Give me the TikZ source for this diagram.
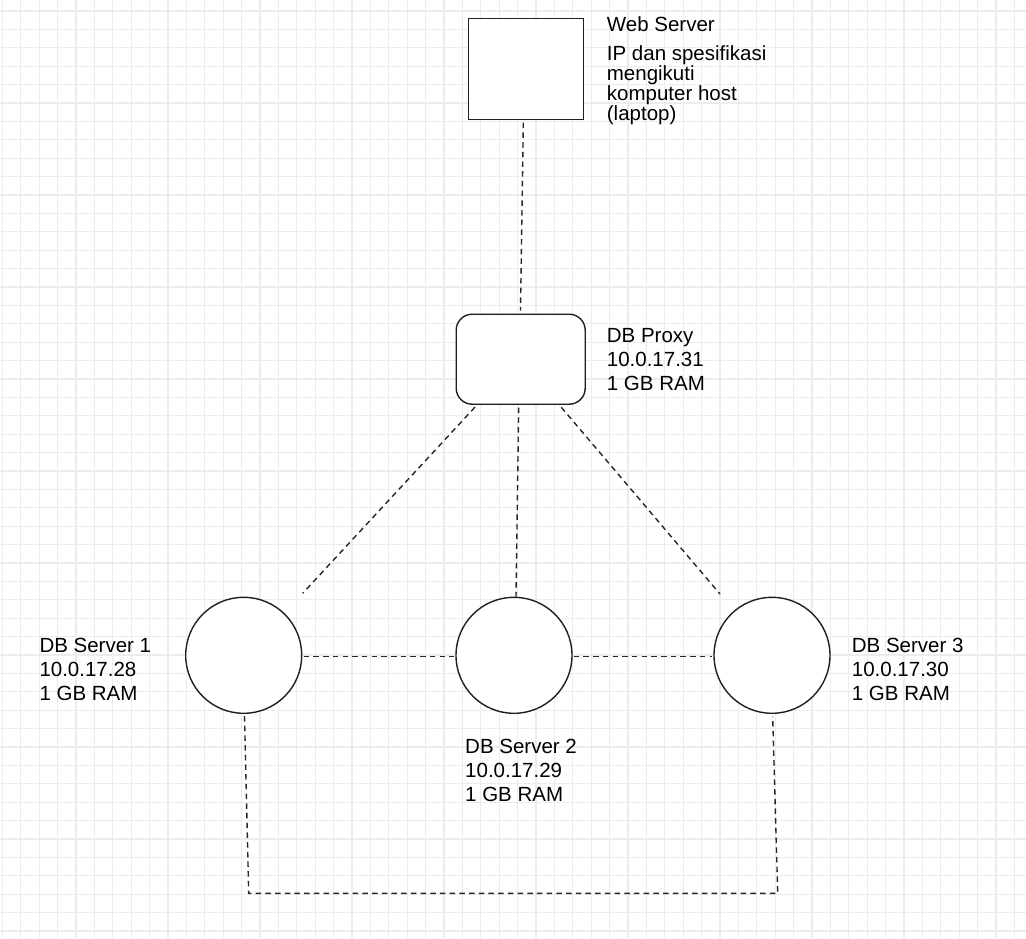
\documentclass[tikz,border=0pt]{standalone}
\usepackage{fontspec}
\setmainfont{Liberation Sans}
\begin{document}
\begin{tikzpicture}[x=1pt,y=-1pt,
  gridline/.style={draw={rgb,255:red,236;green,236;blue,236}, line width=1.2pt},
  box/.style={draw=black!88, line width=1.4pt, fill=white, inner sep=0pt},
  dbnode/.style={box, circle, minimum size=116pt},
  link/.style={draw=black!85, line width=1.4pt, dash pattern=on 5.5pt off 4.2pt},
  lbl/.style={anchor=base west, inner sep=0pt, font=\fontsize{20.5}{24}\selectfont},
  lbltight/.style={anchor=base west, inner sep=0pt, font=\fontsize{20.5}{20}\selectfont}]

% canvas and background grid
\useasboundingbox (0,0) rectangle (1026,938);
\fill[white] (0,0) rectangle (1026,938);
\foreach \i in {0,...,55} \draw[gridline] ({2.3+18.4*\i},0) -- ++(0,938);
\foreach \j in {0,...,50} \draw[gridline] (0,{11+18.4*\j}) -- ++(1026,0);

% machines
\node[box, rectangle, minimum width=115pt, minimum height=101pt] (web) at (526,69) {};
\node[box, rectangle, rounded corners=16pt, minimum width=129pt, minimum height=90pt] (proxy) at (520.7,359.2) {};
\node[dbnode] (db1) at (243.7,655.3) {};
\node[dbnode] (db2) at (514,655.3) {};
\node[dbnode] (db3) at (772,655.3) {};

% labels
\node[lbl] (webtitle) at (606.7,31.7) {Web Server};
\node[lbltight] (webinfo) at (606.7,60.5) {\parbox[t]{200pt}{\raggedright IP dan spesifikasi\\mengikuti\\komputer host\\(laptop)}};
\node[lbl] (proxyinfo) at (606.7,342) {\parbox[t]{200pt}{\raggedright DB Proxy\\10.0.17.31\\1 GB RAM}};
\node[lbl] (db1info) at (39.3,652) {\parbox[t]{200pt}{\raggedright DB Server 1\\10.0.17.28\\1 GB RAM}};
\node[lbl] (db2info) at (465,753.3) {\parbox[t]{200pt}{\raggedright DB Server 2\\10.0.17.29\\1 GB RAM}};
\node[lbl] (db3info) at (851.7,652) {\parbox[t]{200pt}{\raggedright DB Server 3\\10.0.17.30\\1 GB RAM}};

% connections
\draw[link] ([xshift=-2.7pt,yshift=-2.5pt]web.south) -- ([xshift=-0.2pt,yshift=3pt]proxy.north);
\draw[link] ([xshift=19.5pt,yshift=-2.2pt]proxy.south west) -- ([xshift=59pt,yshift=62pt]db1.center);
\draw[link] ([xshift=-2pt,yshift=-2.7pt]proxy.south) -- ([xshift=2pt]db2.north);
\draw[link] ([xshift=-24.6pt,yshift=-2.4pt]proxy.south east) -- ([xshift=-52pt,yshift=61.3pt]db3.center);
\draw[link] ([xshift=1.3pt,yshift=-1pt]db1.east) -- ([xshift=-1pt,yshift=-1pt]db2.west);
\draw[link] ([xshift=1pt,yshift=-1pt]db2.east) -- ([xshift=-1pt,yshift=-1pt]db3.west);
\coordinate (loopL) at (248.7,893.3);
\coordinate (loopR) at (777.7,893.3);
\draw[link] ([xshift=0.8pt,yshift=-2pt]db1.south) -- (loopL) -- (loopR) -- ([xshift=0.7pt,yshift=-2.7pt]db3.south);
\end{tikzpicture}
\end{document}
